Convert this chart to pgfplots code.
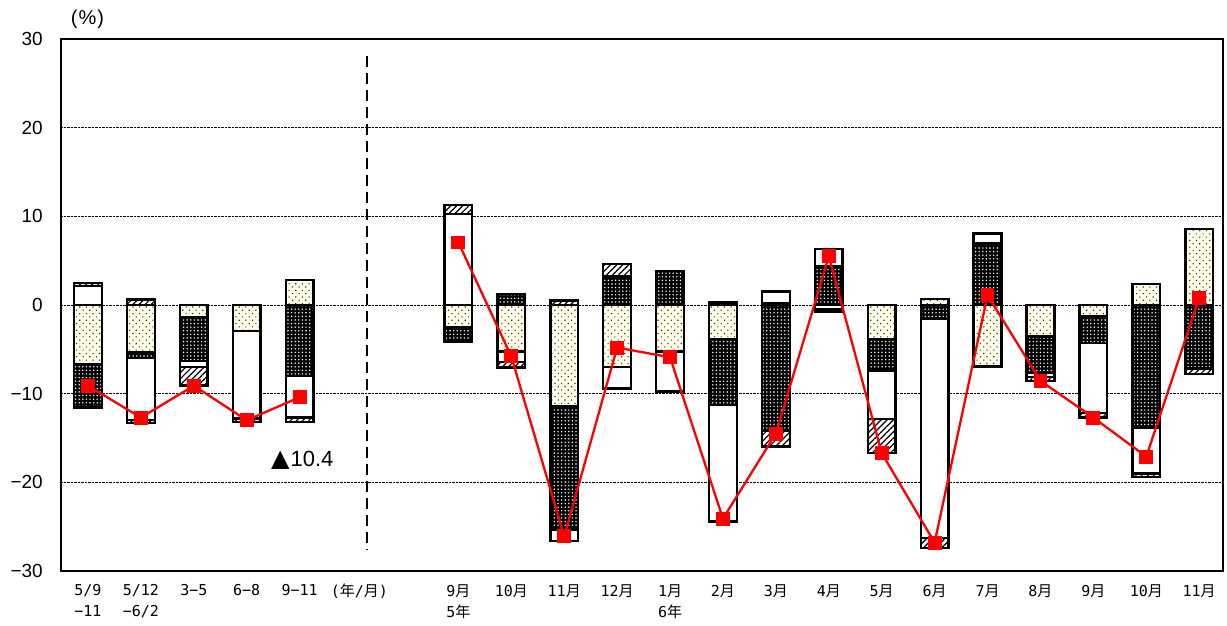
\documentclass[border=0pt]{standalone}
\usepackage{fontspec}
\setmainfont{Liberation Sans}
\newfontfamily\cjk{Noto Sans CJK JP}
\newfontfamily\dejavu{DejaVu Sans}
\newfontfamily\monofont{DejaVu Sans Mono}
\usepackage{pgfplots}
\pgfplotsset{compat=1.18}
\usepackage{pgfplotstable}
\usetikzlibrary{patterns.meta}

\definecolor{dotbg}{RGB}{255,255,236}
\definecolor{dotfg}{RGB}{51,51,0}

\newcommand{\tsuki}{{\cjk 月}}
\newcommand{\nen}{{\cjk 年}}

% contributions (positive parts, negative parts) and the total
\pgfplotstableread{
x  pdot pdark pwhite phatch ndot   ndark  nwhite nhatch total
0  0    0     2.15   0.3    -6.65  -4.93  0      0      -9.1
1  0    0     0      0.6    -5.3   -0.7   -7.0   -0.3   -12.7
2  0    0     0      0      -1.4   -4.9   -0.7   -2.1   -9.1
3  0    0     0      0      -2.9   0      -9.9   -0.4   -13.0
4  2.8  0     0      0      0      -8.0   -4.7   -0.5   -10.4
7  0    0     10.25  1.0    -2.55  -1.65  0      0      7.05
8  0    1.25  0      0      -5.25  0      -1.15  -0.65  -5.8
9  0    0     0      0.5    -11.45 -13.85 -1.3   0      -26.1
10 0    3.2   0      1.4    -7.0   0      -2.4   0      -4.8
11 0    3.85  0      0      -5.25  0      -4.5   0      -5.9
12 0    0     0      0.3    -3.85  -7.4   -13.15 0      -24.1
13 0    0.25  1.25   0      0      -14.15 0      -1.8   -14.5
14 0    4.4   1.9    0      0      0      -0.45  -0.3   5.5
15 0    0     0      0      -3.85  -3.55  -5.45  -3.85  -16.7
16 0.65 0     0      0      0      -1.6   -24.7  -1.1   -26.8
17 0    6.95  1.1    0      -6.95  0      0      0      1.1
18 0    0     0      0      -3.55  -4.15  -0.4   -0.45  -8.55
19 0    0     0      0      -1.25  -3.05  -7.9   -0.5   -12.7
20 2.35 0     0      0      0      -13.8  -5.2   -0.4   -17.1
21 8.55 0     0      0      0      -7.15  0      -0.65  0.8
}\bars

\pgfplotsset{
  mainframe/.style={
    at={(61pt,55pt)}, anchor=south west, scale only axis,
    width=1162pt, height=532pt,
    xmin=-0.51, xmax=21.45, ymin=-30, ymax=30,
  },
  seg/.style={draw=black, line width=2.4pt},
  dotseg/.style={seg, fill=dotbg,
    postaction={pattern={Dots[distance=4.7pt, radius=0.8pt, angle=45]}, pattern color=dotfg}},
  darkseg/.style={seg, fill=black,
    postaction={pattern={Dots[distance=3.6pt, radius=0.8pt]}, pattern color=white}},
  whiteseg/.style={seg, fill=white},
  hatchseg/.style={seg, fill=white,
    postaction={pattern={Lines[angle=45, distance=4.3pt, line width=1.2pt]}, pattern color=black}},
  totalline/.style={red, line width=2.3pt, mark=square*, mark size=5.8pt, mark options={solid}},
}

\begin{document}
\begin{tikzpicture}
\useasboundingbox (0,0) rectangle (1227pt,626pt);

% frame, grid, labels and the parts above zero
\begin{axis}[
  mainframe,
  ybar stacked, bar width=0.524,
  axis line style={line width=1.8pt},
  tick style={draw=none},
  ytick={-30,-20,...,30},
  yticklabels={−30,−20,−10,0,10,20,30},
  yticklabel style={font=\fontsize{19}{20}\selectfont, anchor=east, inner sep=0pt, xshift=-18pt},
  ymajorgrids,
  grid style={densely dotted, line width=0.7pt, black},
  xtick={0,1,2,3,4,5.13,7,8,9,10,11,12,13,14,15,16,17,18,19,20,21},
  xticklabels={{5/9\\−11},{5/12\\−6/2},{3−5},{6−8},{9−11},{(\nen/\tsuki)},
    {9\tsuki\\5\nen},{10\tsuki},{11\tsuki},{12\tsuki},{1\tsuki\\6\nen},{2\tsuki},{3\tsuki},{4\tsuki},{5\tsuki},
    {6\tsuki},{7\tsuki},{8\tsuki},{9\tsuki},{10\tsuki},{11\tsuki}},
  xticklabel style={font=\monofont\fontsize{15}{21.5}\selectfont, align=center,
    anchor=north, inner sep=0pt, yshift=-13pt},
]
\addplot[dotseg]   table[x=x, y=pdot]   {\bars};
\addplot[darkseg]  table[x=x, y=pdark]  {\bars};
\addplot[whiteseg] table[x=x, y=pwhite] {\bars};
\addplot[hatchseg] table[x=x, y=phatch] {\bars};
\end{axis}

% parts below zero, stacked downward from zero
\begin{axis}[mainframe, hide axis, ybar stacked, bar width=0.524]
\addplot[dotseg]   table[x=x, y=ndot]   {\bars};
\addplot[darkseg]  table[x=x, y=ndark]  {\bars};
\addplot[whiteseg] table[x=x, y=nwhite] {\bars};
\addplot[hatchseg] table[x=x, y=nhatch] {\bars};
\end{axis}

% total change, quarterly and monthly runs drawn separately
\begin{axis}[mainframe, hide axis, clip=false]
\addplot[totalline, restrict x to domain=0:4]  table[x=x, y=total] {\bars};
\addplot[totalline, restrict x to domain=7:21] table[x=x, y=total] {\bars};
\draw[line width=1.8pt, dash pattern=on 11pt off 6pt]
  (axis cs:5.27,28.1) -- (axis cs:5.27,-27.6);
\node[font=\fontsize{22}{24}\selectfont, inner sep=0pt] at (axis cs:4.05,-17.5)
  {{\dejavu\fontsize{24}{24}\selectfont ▲}\kern1pt10.4};
\end{axis}

\node[font=\fontsize{20}{22}\selectfont, inner sep=0pt] at (87.5pt,607pt) {(\kern1pt\%\kern1pt)};
\end{tikzpicture}
\end{document}
